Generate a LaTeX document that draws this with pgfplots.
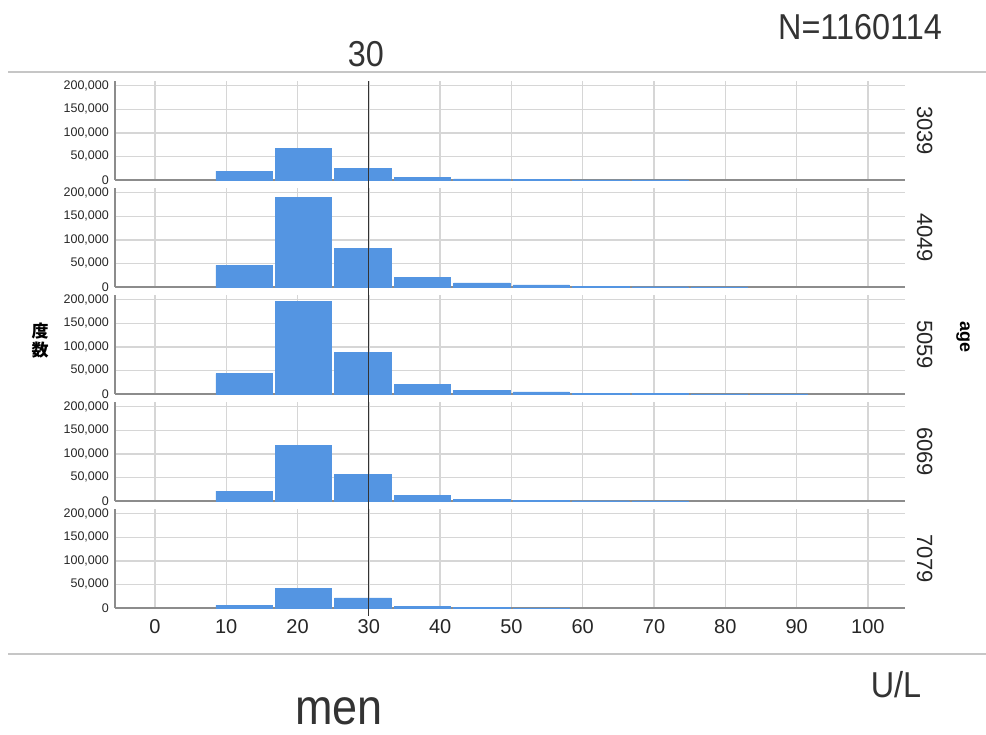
\documentclass[border=0pt]{standalone}
\usepackage{pgfplots}
\pgfplotsset{compat=1.18}
\usepackage{fontspec}
\setmainfont{Liberation Sans}
\newfontfamily\narrow{Liberation Sans}[FakeStretch=0.9]
\newfontfamily\cjk{Noto Sans CJK JP}
\definecolor{barblue}{RGB}{84,149,226}
\definecolor{gridgray}{RGB}{214,214,214}
\definecolor{axgray}{RGB}{140,140,140}
\pgfplotsset{panel/.style={
  scale only axis, width=790pt, height=99pt, anchor=south west,
  xmin=-5.6, xmax=105.2, ymin=0, ymax=210000,
  axis x line*=bottom, axis y line*=left,
  axis line style={draw=axgray, line width=1.4pt, -},
  xtick={0,10,...,100}, ytick={0,50000,100000,150000,200000},
  yticklabels={0,{50,000},{100,000},{150,000},{200,000}},
  /pgf/number format/assume math mode=true,
  grid=major, major grid style={draw=gridgray, line width=1.4pt},
  major tick length=0pt,
  yticklabel style={font=\fontsize{12.5}{12.5}\selectfont, text=black!85, inner sep=0pt, xshift=-6pt},
  xticklabel style={font=\fontsize{20}{20}\selectfont, text=black!85, yshift=-8pt},
  scaled y ticks=false,
  clip=false,
}}
\newcommand{\panel}[2]{%
  \addplot[ybar interval, bar interval width=0.95, fill=barblue, draw=barblue, line width=0.4pt] coordinates {#1};
  \draw[black!80, line width=1.3pt] (axis cs:30,0) -- (axis cs:30,210000);
  \draw[black!80, line width=1.3pt] (axis cs:30,0) -- ++(0pt,-8pt);
  \node[rotate=-90, font=\fontsize{22}{22}\selectfont, text=black!85] at (rel axis cs:1.025,0.5) {#2};
}
\begin{document}
\begin{tikzpicture}[x=1pt,y=1pt]
\useasboundingbox (0,0) rectangle (986,735);
\draw[gray!45, line width=1.4pt] (8,663) -- (986,663);
\draw[gray!45, line width=1.4pt] (8,81) -- (986,81);

\begin{axis}[panel, at={(115pt,555pt)}, xticklabels={}]
\panel{(8.333,19000) (16.667,67500) (25,25000) (33.333,6300) (41.667,2500) (50,1000) (58.333,500) (66.667,250) (75,0)}{3039}
\end{axis}

\begin{axis}[panel, at={(115pt,448pt)}, xticklabels={}]
\panel{(8.333,46000) (16.667,190500) (25,82000) (33.333,20000) (41.667,8600) (50,4300) (58.333,1500) (66.667,600) (75,250) (83.333,0)}{4049}
\end{axis}

\begin{axis}[panel, at={(115pt,341pt)}, xticklabels={}]
\panel{(8.333,43300) (16.667,197000) (25,88800) (33.333,21000) (41.667,7800) (50,4300) (58.333,2000) (66.667,800) (75,300) (83.333,120) (91.667,0)}{5059}
\end{axis}

\begin{axis}[panel, at={(115pt,234pt)}, xticklabels={}]
\panel{(8.333,21000) (16.667,118700) (25,56000) (33.333,11500) (41.667,3700) (50,1500) (58.333,600) (66.667,250) (75,0)}{6069}
\end{axis}

\begin{axis}[panel, at={(115pt,127pt)}, xticklabels={0,10,20,30,40,50,60,70,80,90,100}]
\panel{(8.333,5800) (16.667,41000) (25,21600) (33.333,3700) (41.667,1000) (50,300) (58.333,0)}{7079}
\end{axis}

\node[font=\cjk\bfseries\fontsize{17}{19}\selectfont, align=center] at (40,394) {度\\数};
\node[rotate=-90, font=\bfseries\fontsize{18}{18}\selectfont] at (963,398) {age};
\node[anchor=base, font=\narrow\fontsize{36}{36}\selectfont, text=black!80] at (366,668) {30};
\node[anchor=base, font=\narrow\fontsize{36}{36}\selectfont, text=black!80] at (860,695) {N=1160114};
\node[anchor=base, font=\narrow\fontsize{36}{36}\selectfont, text=black!80] at (896,37) {U/L};
\node[anchor=base, inner sep=0pt, font=\narrow\fontsize{50}{50}\selectfont, text=black!80] at (339,10) {men};
\end{tikzpicture}
\end{document}
